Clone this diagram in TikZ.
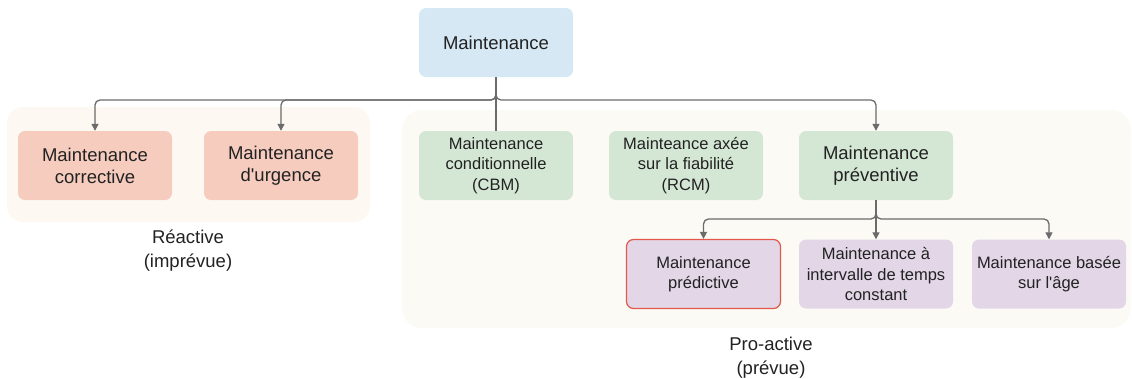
\documentclass[tikz,border=0pt]{standalone}
\usepackage{fontspec}
\setmainfont{Liberation Sans}[Ligatures=TeXOff]
\usetikzlibrary{arrows.meta}
\definecolor{topblue}{HTML}{D5E8F4}
\definecolor{salmon}{HTML}{F6CCBF}
\definecolor{mint}{HTML}{D4E7D4}
\definecolor{lilac}{HTML}{E2D6E7}
\definecolor{redline}{HTML}{E2584A}
\definecolor{groupbg}{HTML}{FDF9F2}
\definecolor{groupbgr}{HTML}{FCFAF5}
\definecolor{linegray}{HTML}{6B6B6B}
\definecolor{txt}{HTML}{222222}
\tikzset{
  box/.style={rounded corners=7pt, minimum width=154pt, minimum height=69pt, inner sep=0pt, align=center, text=txt},
  bigtext/.style={font=\fontsize{18.5}{22}\selectfont},
  smalltext/.style={font=\fontsize{16.5}{20.5}\selectfont},
  conn/.style={draw=linegray, line width=1.3pt, rounded corners=5pt, -{Triangle[length=7pt,width=7pt]}},
  plainconn/.style={draw=linegray, line width=1.3pt},
  grouplabel/.style={align=center, text=txt, font=\fontsize{18.5}{24}\selectfont},
}
\begin{document}
\begin{tikzpicture}[x=1pt,y=-1pt]
\useasboundingbox (0,0) rectangle (1132,378);
% group backgrounds
\fill[groupbg, rounded corners=16pt] (7,107) rectangle (370,222);
\fill[groupbgr, rounded corners=20pt] (402,110) rectangle (1131,328);
% nodes
\node[box, bigtext, fill=topblue] (top) at (496,42.5) {Maintenance};
\node[box, bigtext, fill=salmon] (corr) at (95,165.5) {Maintenance\\corrective};
\node[box, bigtext, fill=salmon] (urg) at (281,165.5) {Maintenance\\d'urgence};
\node[box, smalltext, fill=mint] (cbm) at (496,165.5) {Maintenance\\conditionnelle\\(CBM)};
\node[box, smalltext, fill=mint] (rcm) at (686,165.5) {Mainteance axée\\sur la fiabilité\\(RCM)};
\node[box, bigtext, fill=mint] (prev) at (876,165.5) {Maintenance\\préventive};
\node[box, smalltext, fill=lilac, draw=redline, line width=1.2pt] (pred) at (703.5,274) {Maintenance\\prédictive};
\node[box, smalltext, fill=lilac] (interv) at (876,274) {Maintenance à\\intervalle de temps\\constant};
\node[box, smalltext, fill=lilac] (age) at (1049,274) {Maintenance basée\\sur l'âge};
% group labels
\node[grouplabel] (lreact) at (188,251) {Réactive\\(imprévue)};
\node[grouplabel] (lpro) at (771,358) {Pro-active\\(prévue)};
% junctions
\coordinate (j1) at (496,100);
\coordinate (j2) at (876,219);
% connectors
\draw[conn] (top.south) -- (j1) -| (corr.north);
\draw[conn] (top.south) -- (j1) -| (urg.north);
\draw[conn] (top.south) -- (j1) -| (prev.north);
\draw[plainconn] (top.south) -- (cbm.north);
\draw[conn] (prev.south) -- (j2) -| (pred.north);
\draw[conn] (prev.south) -- (j2) -| (age.north);
\draw[conn] (prev.south) -- (interv.north);
\end{tikzpicture}
\end{document}
